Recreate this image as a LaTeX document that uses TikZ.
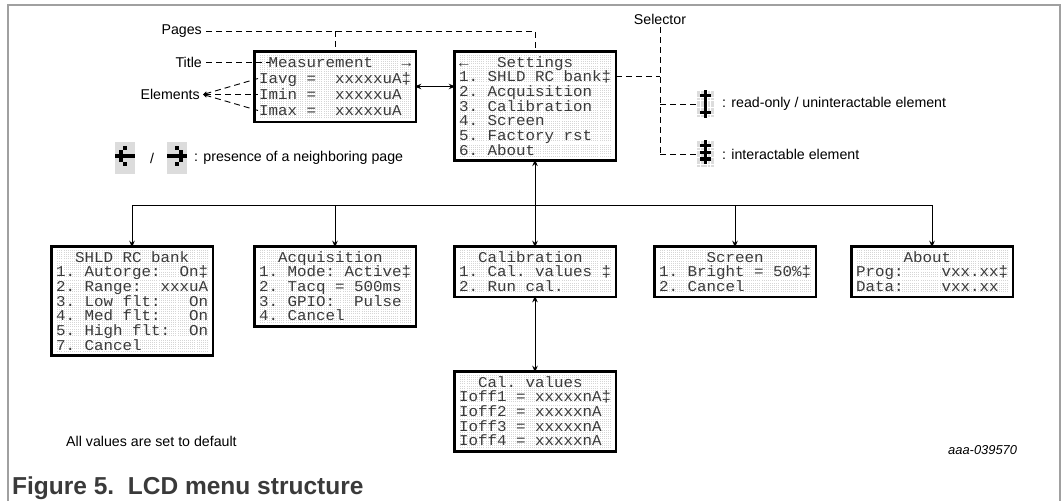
\documentclass[tikz,border=0pt]{standalone}
\usepackage{fontspec}
\setmainfont{Liberation Sans}
\newfontfamily\lcdfont[FakeStretch=1.055]{Liberation Mono}
\usetikzlibrary{arrows.meta}
\definecolor{cellc}{HTML}{D6D6D6}
\definecolor{lcdtext}{HTML}{3A3A3A}
\definecolor{framec}{HTML}{A0A0A0}
\definecolor{capc}{HTML}{3A3A3A}
\definecolor{pixbgc}{HTML}{DCDCDC}
\tikzset{
 lcdbox/.style={draw=black, line width=2.5pt, fill=white, rectangle, inner sep=0pt, outer sep=0pt},
 lcdtxt/.style={inner sep=0pt, font={\lcdfont\fontsize{15}{15}\selectfont\frenchspacing\def~{\hphantom{0}}}, text=lcdtext, anchor=base west},
 lbl/.style={inner sep=0pt, font=\fontsize{14.2}{17}\selectfont},
 dashline/.style={draw=black, line width=0.9pt, dash pattern=on 6pt off 4pt},
 conn/.style={draw=black, line width=0.9pt},
 tip/.style={-{Stealth[length=6.5pt,width=5.5pt]}},
 dtip/.style={{Stealth[length=6.5pt,width=5.5pt]}-{Stealth[length=6.5pt,width=5.5pt]}},
 iconbox/.style={inner sep=0pt, minimum width=17pt, minimum height=27.2pt},
}
% #1 name, #2 x0, #3 y0, #4 rows, #5 pitch, #6 lines
\newcommand\lcdscr[6]{%
  \pgfmathsetmacro\lcdH{#4*#5+9}%
  \pgfmathsetmacro\ystp{#5/8}%
  \node[lcdbox, minimum width=161.5pt, minimum height={\lcdH pt-2.5pt}, anchor=north west] (#1) at ({#2+1.25},{#3+1.25}) {};%
  \foreach \ri in {1,...,#4}{\foreach \ci in {0,...,15}{\fill[cellc] ({#2+6+\ci*9.5+0.5},{#3+4.5+(\ri-1)*#5+0.5}) rectangle ++(8.5,{#5-1});}}%
  \begin{scope}[shift={({#2+6},{#3+4.5})}]\draw[white, line width=0.35pt] (0,0) grid[xstep=1.9pt, ystep=\ystp pt] (152,{#4*#5});\end{scope}%
  \foreach \lcdline [count=\ii] in {#6}{\node[lcdtxt] at ({#2+6},{#3+4.5+(\ii-1)*#5+#5/2+5.2}) {\lcdline};}%
}
% #1 x left, #2 y top, #3 pixel size, #4 black pixels c/r, #5 last row index
\newcommand\pixicon[5]{%
  \foreach \ci in {0,...,4}{\foreach \ri in {0,...,#5}{\fill[pixbgc] ({#1+\ci*#3+0.3},{#2+\ri*#3+0.3}) rectangle ++({#3-0.6},{#3-0.6});}}%
  \foreach \ci/\ri in {#4}{\fill[black] ({#1+\ci*#3},{#2+\ri*#3}) rectangle ++(#3,#3);}%
}
\begin{document}
\begin{tikzpicture}[x=1pt,y=-1pt]
\useasboundingbox (0,0) rectangle (1064,501);
\draw[framec, line width=1.3pt] (8,501) -- (8,5) -- (1060,5) -- (1060,501);

% screens
\lcdscr{meas}{253}{50}{4}{16}{~Measurement~~~→, Iavg~=~~xxxxxuA‡, Imin~=~~xxxxxuA, Imax~=~~xxxxxuA}
\lcdscr{set}{453}{50}{7}{14.7}{←~~~Settings, 1.~SHLD~RC~bank‡, 2.~Acquisition, 3.~Calibration, 4.~Screen, 5.~Factory~rst, 6.~About}
\lcdscr{shld}{50}{245}{7}{14.7}{~~SHLD~RC~bank, 1.~Autorge:~~On‡, 2.~Range:~~xxxuA, 3.~Low~flt:~~~On, 4.~Med~flt:~~~On, 5.~High~flt:~~On, 7.~Cancel}
\lcdscr{acq}{253}{245}{5}{14.7}{~~Acquisition, 1.~Mode:~Active‡, 2.~Tacq~=~500ms, 3.~GPIO:~~Pulse, 4.~Cancel}
\lcdscr{cal}{453}{245}{3}{14.7}{~~Calibration, 1.~Cal.~values~‡, 2.~Run~cal.}
\lcdscr{scr}{653}{245}{3}{14.7}{~~~~~Screen, 1.~Bright~=~50\%‡, 2.~Cancel}
\lcdscr{about}{850}{245}{3}{14.7}{~~~~~About, Prog:~~~~vxx.xx‡, Data:~~~~vxx.xx}
\lcdscr{calv}{453}{370}{5}{14.7}{~~Cal.~values, Ioff1~=~xxxxxnA‡, Ioff2~=~xxxxxnA, Ioff3~=~xxxxxnA, Ioff4~=~xxxxxnA}

% connectors
\coordinate (bus) at (0,205);
\draw[conn] (bus -| shld.north) -- (bus -| about.north);
\foreach \n in {shld,acq,scr,about}{\draw[conn,tip,shorten >=-1pt] (bus -| \n.north) -- (\n.north);}
\draw[conn,dtip,shorten >=-1pt,shorten <=-1pt] (set.south) -- (cal.north);
\draw[conn,dtip,shorten >=-1pt,shorten <=-1pt] (cal.south) -- (calv.north);
\draw[conn,dtip,shorten >=-1pt,shorten <=-1pt] (meas.east) -- (set.west |- meas.east);

% annotation labels
\node[lbl, anchor=east] (pages) at (202,31) {Pages};
\draw[dashline] ([xshift=4pt]pages.east) -- (set.north |- pages.east) -- (set.north);
\draw[dashline] (meas.north |- pages.east) -- (meas.north);

\node[lbl, anchor=east] (title) at (202,62.5) {Title};
\coordinate (titleend) at (270,62.5);
\draw[dashline] ([xshift=4pt]title.east) -- (titleend);

\node[lbl, anchor=east] (elem) at (200,94.5) {Elements};
\coordinate (e1) at (258,78.5);
\coordinate (e2) at (258,94.5);
\coordinate (e3) at (258,110.5);
\foreach \e in {e1,e2,e3}{\draw[dashline, {Stealth[length=4pt,width=4pt]}-] ([xshift=3pt]elem.east) -- (\e);}

\node[lbl] (sel) at (660,19) {Selector};
\coordinate (s1) at (660,76.55);
\coordinate (s2) at (660,104);
\coordinate (s3) at (660,154);
\draw[dashline] ([yshift=-3pt]sel.south) -- (s3);
\draw[dashline] (set.east |- s1) -- (s1);

% legend: selector icons
\node[iconbox] (ro) at (705.5,104) {};
\pixicon{697}{90.4}{3.4}{2/0,1/1,2/1,3/1,2/2,2/3,2/4,2/5,1/6,2/6,3/6,2/7}{7}
\node[iconbox] (ia) at (705.5,154) {};
\pixicon{697}{140.4}{3.4}{2/0,1/1,2/1,3/1,2/2,1/3,2/3,3/3,2/4,1/5,2/5,3/5,2/6}{7}
\draw[dashline] (s2) -- (ro.west);
\draw[dashline] (s3) -- (ia.west);
\node[lbl, anchor=west] (rotxt) at (722,104) {: read-only / uninteractable element};
\node[lbl, anchor=west] (iatxt) at (722,154) {: interactable element};

% legend: neighbouring page icons
\node[inner sep=0pt, minimum width=20pt, minimum height=32pt] (nl) at (125,158) {};
\pixicon{115}{142}{4}{2/1,1/2,0/3,1/3,2/3,3/3,4/3,1/4,2/5}{7}
\node[lbl] (slash) at (152,158) {/};
\node[inner sep=0pt, minimum width=20pt, minimum height=32pt] (nr) at (177,158) {};
\pixicon{167}{142}{4}{2/1,3/2,0/3,1/3,2/3,3/3,4/3,3/4,2/5}{7}
\node[lbl, anchor=west] (nbtxt) at (194,158) {: presence of a neighboring page};

% notes and caption
\node[lbl, anchor=west] (note) at (66,441) {All values are set to default};
\node[anchor=west, inner sep=0pt, font=\itshape\fontsize{12.9}{15}\selectfont] (ref) at (948,450) {aaa-039570};
\node[anchor=base west, inner sep=0pt, text=capc, font=\bfseries\fontsize{24.5}{28}\selectfont] (cap) at (12,494) {Figure 5.\ \ LCD menu structure};
\end{tikzpicture}
\end{document}
